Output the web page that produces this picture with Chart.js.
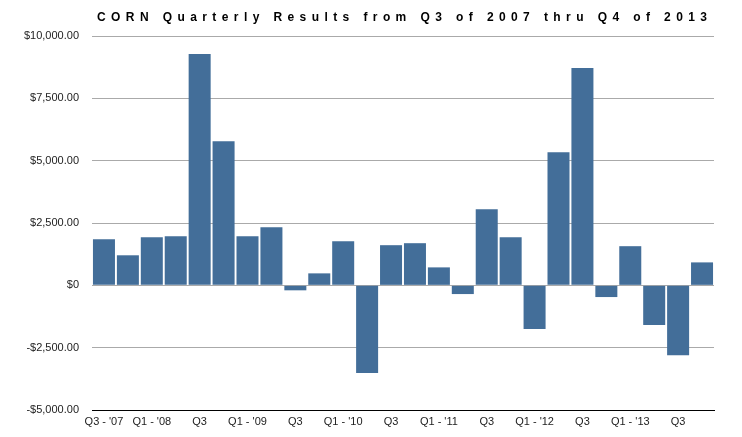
<!DOCTYPE html>
<html>
<head>
<meta charset="utf-8">
<script src="https://cdn.jsdelivr.net/npm/chart.js@4/dist/chart.umd.min.js"></script>
<style>
  html, body { margin: 0; padding: 0; background: #ffffff; }
  #wrap { width: 742px; height: 437px; position: relative; }
</style>
</head>
<body>
<div id="wrap"><canvas id="c" width="742" height="437"></canvas></div>
<script>
const titleText = "CORN Quarterly Results from Q3 of 2007 thru Q4 of 2013";
const quarters = [
  "Q3 - '07", "Q4", "Q1 - '08", "Q2", "Q3", "Q4",
  "Q1 - '09", "Q2", "Q3", "Q4",
  "Q1 - '10", "Q2", "Q3", "Q4",
  "Q1 - '11", "Q2", "Q3", "Q4",
  "Q1 - '12", "Q2", "Q3", "Q4",
  "Q1 - '13", "Q2", "Q3", "Q4"
];
const results = [
  1850, 1205, 1930, 1970, 9280, 5780,
  1970, 2330, -200, 480,
  1770, -3520, 1610, 1690,
  720, -350, 3050, 1930,
  -1750, 5340, 8720, -470,
  1570, -1590, -2800, 920
];
const yTicks = [-5000, -2500, 0, 2500, 5000, 7500, 10000];

function money(v) {
  if (v === 0) return "$0";
  const s = Math.abs(v).toLocaleString("en-US", {minimumFractionDigits: 2, maximumFractionDigits: 2});
  return (v < 0 ? "-$" : "$") + s;
}

const titlePlugin = {
  id: "spacedTitle",
  afterDraw(chart) {
    const ctx = chart.ctx;
    ctx.save();
    ctx.font = "bold 12px 'Liberation Sans', Arial, Helvetica, sans-serif";
    ctx.fillStyle = "#000";
    ctx.textBaseline = "middle";
    ctx.textAlign = "left";
    const targetW = 610;
    const baseW = ctx.measureText(titleText).width;
    const sp = (targetW - baseW) / (titleText.length - 1);
    ctx.letterSpacing = sp + "px";
    ctx.fillText(titleText, 97, 18);
    ctx.restore();
  }
};

new Chart(document.getElementById("c"), {
  type: "bar",
  data: {
    labels: quarters,
    datasets: [{
      data: results,
      backgroundColor: "#436e99",
      borderWidth: 0,
      barPercentage: 0.92,
      categoryPercentage: 1.0
    }]
  },
  options: {
    responsive: false,
    animation: false,
    devicePixelRatio: 1,
    layout: { padding: { top: 36, right: 28, left: 0, bottom: 0 } },
    plugins: { legend: { display: false }, title: { display: false }, tooltip: { enabled: false } },
    scales: {
      x: {
        grid: { display: false, drawTicks: false },
        border: { display: true, color: "#000", width: 1 },
        ticks: {
          autoSkip: false,
          maxRotation: 0,
          minRotation: 0,
          padding: 5,
          color: "#222",
          font: { family: "'Liberation Sans', Arial, Helvetica, sans-serif", size: 11 },
          callback: function(v, i) { return i % 2 === 0 ? quarters[i] : ""; }
        },
        afterFit(scale) { scale.height = 27; }
      },
      y: {
        min: -5000,
        max: 10000,
        afterBuildTicks(scale) { scale.ticks = yTicks.map(v => ({ value: v })); },
        grid: {
          drawTicks: false,
          color: ctx => (ctx.tick && ctx.tick.value === -5000) ? "#000" : "#aaaaaa",
          lineWidth: 1
        },
        border: { display: false },
        ticks: {
          padding: 13,
          color: "#222",
          font: { family: "'Liberation Sans', Arial, Helvetica, sans-serif", size: 11 },
          callback: v => money(v)
        },
        afterFit(scale) { scale.width = 92; }
      }
    }
  },
  plugins: [titlePlugin]
});
</script>
</body>
</html>
